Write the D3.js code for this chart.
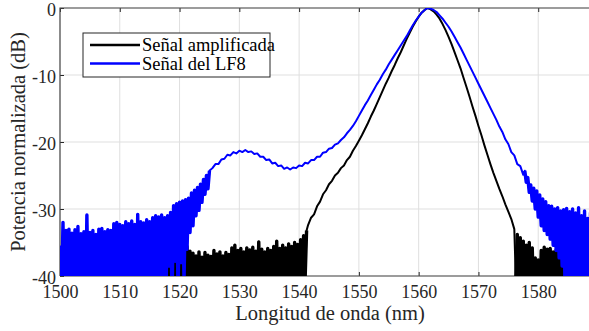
<!DOCTYPE html>
<html>
<head>
<meta charset="utf-8">
<script src="https://cdn.jsdelivr.net/npm/d3@7"></script>
<style>
  body { margin: 0; background: #fff; }
</style>
</head>
<body>
<div id="chart"></div>
<script>
// ticks
var xTicks = [1500, 1510, 1520, 1530, 1540, 1550, 1560, 1570, 1580];
var yTicks = [-40, -30, -20, -10, 0];

// Señal amplificada (black), dB
// 1516.5 .. 1541.25 nm, every 0.25 nm (noise floor)
var blackLeft = [-45,-38.0,-46,-44,-39.5,-46,-45,-38.8,-44,-36.4,
  -45,-37.5,-44,-35.8,-46,-36.8,-43,-35.7,-45,-35.6,
  -44,-36.3,-46,-36.6,-44,-37.0,-45,-36.4,-43,-37.2,
  -46,-36.5,-44,-36.9,-45,-37.1,-44,-36.2,-46,-36.7,
  -43,-36.4,-45,-37.0,-44,-36.5,-46,-36.8,-45,-35.8,
  -44,-35.4,-46,-36.2,-43,-35.9,-45,-36.4,-44,-35.8,
  -46,-36.1,-45,-35.7,-44,-36.3,-43,-34.9,-45,-36.0,
  -46,-36.4,-44,-35.9,-45,-36.2,-43,-35.6,-46,-34.8,
  -44,-35.9,-45,-35.4,-44,-35.8,-46,-35.2,-43,-35.6,
  -45,-35.0,-44,-35.3,-42,-34.6,-41,-34.0,-40.5,-33.2];
// 1541.5 .. 1576 nm, every 0.5 nm
var blackMid = [-32.4,-31.3,-30.8,-29.6,-28.9,-27.8,-27.2,-26.3,-25.8,-25.0,
  -24.6,-23.9,-23.5,-22.7,-22.2,-21.3,-20.6,-19.8,-19.0,-18.1,
  -17.2,-16.2,-15.3,-14.3,-13.3,-12.3,-11.3,-10.4,-9.4,-8.5,
  -7.5,-6.6,-5.6,-4.6,-3.7,-2.8,-2.0,-1.3,-0.7,-0.3,
  0,-0.2,-0.5,-1.0,-1.6,-2.4,-3.3,-4.3,-5.4,-6.6,
  -7.8,-9.0,-10.4,-11.8,-13.2,-14.7,-16.1,-17.6,-19.0,-20.5,
  -21.9,-23.3,-24.6,-25.8,-27.0,-28.1,-29.3,-30.4,-31.5,-33.0];
// 1576.25 .. 1585.25 nm, every 0.25 nm
var blackRight = [-40.5,-33.8,-44,-34.3,-45,-34.8,-44,-35.4,-46,-35.0,
  -45,-35.8,-44,-37.3,-46,-37.6,-45,-36.2,-44,-35.7,
  -46,-36.0,-45,-35.9,-44,-36.4,-46,-36.1,-45,-36.5,
  -44,-36.8,-46,-37.1,-45,-37.3,-46];

// Señal del LF8 (blue)
// 1500 .. 1525 nm, every 0.25 nm
var blueLeft = [-35.5,-44,-32.0,-47,-33.2,-43,-33.0,-46,-33.6,-45,
  -33.1,-44,-32.6,-48,-33.7,-45,-33.4,-44,-30.9,-46,
  -33.5,-45,-33.2,-47,-33.8,-44,-33.0,-46,-32.9,-45,
  -33.4,-44,-33.1,-47,-33.2,-45,-32.2,-44,-32.0,-46,
  -32.3,-45,-32.5,-44,-31.9,-47,-32.2,-45,-31.8,-44,
  -32.3,-46,-30.8,-45,-31.9,-44,-32.1,-47,-31.6,-45,
  -31.9,-44,-31.3,-46,-31.0,-45,-31.2,-43,-30.9,-44,
  -31.3,-41,-31.0,-38.5,-30.5,-43,-29.5,-37.8,-29.2,-42,
  -29.0,-38,-28.8,-40.5,-28.6,-36,-28.4,-33.5,-27.6,-32.5,
  -27.2,-31.0,-26.8,-30.2,-26.3,-29.0,-25.6,-27.8,-25.0,-27.0,
  -24.3];
// 1525.5 .. 1577.5 nm, every 0.5 nm
var blueMid = [-23.9,-23.3,-23.3,-22.6,-22.5,-21.9,-22.0,-21.5,-21.7,-21.3,
  -21.5,-21.2,-21.5,-21.4,-21.8,-21.7,-22.2,-22.2,-22.7,-22.6,
  -23.2,-23.1,-23.6,-23.5,-24.0,-23.8,-24.1,-23.8,-23.9,-23.5,
  -23.6,-23.1,-23.2,-22.7,-22.7,-22.2,-22.2,-21.6,-21.5,-21.0,
  -20.9,-20.4,-20.2,-19.7,-19.3,-18.7,-18.2,-17.6,-16.9,-16.1,
  -15.3,-14.5,-13.8,-13.0,-12.2,-11.4,-10.7,-9.9,-9.2,-8.4,
  -7.7,-7.0,-6.3,-5.6,-4.9,-4.2,-3.4,-2.6,-1.9,-1.3,
  -0.7,-0.3,0,-0.1,-0.3,-0.6,-1.1,-1.6,-2.2,-2.8,
  -3.5,-4.3,-5.1,-5.9,-6.8,-7.7,-8.6,-9.5,-10.4,-11.3,
  -12.2,-13.1,-14.0,-14.9,-15.8,-16.7,-17.7,-18.5,-19.6,-20.3,
  -21.5,-22.0,-23.3,-23.6,-24.9];
// 1577.75 .. 1590 nm, every 0.25 nm
var blueRight = [-24.3,-26.0,-25.3,-27.5,-26.4,-28.8,-26.9,-30.0,-27.3,-31.2,
  -27.9,-32.5,-28.5,-33.2,-28.9,-33.8,-29.5,-34.5,-29.6,-35.4,
  -30.0,-36.2,-29.8,-37.3,-30.3,-38.5,-30.1,-42,-29.9,-45,
  -30.4,-44,-30.0,-46,-30.6,-45,-29.8,-44,-31.0,-47,
  -30.3,-45,-31.4,-44,-30.6,-46,-31.2,-45,-30.8,-44];

var legendNames = ["Señal amplificada", "Señal del LF8"];
var colors = ["#000000", "#0000ff"];

(function () {
  var serif = "'Liberation Serif', Tinos, 'Times New Roman', Times, 'DejaVu Serif', serif";

  function build(start, step, vals) {
    return vals.map(function(v, i) { return { wl: start + i * step, db: v }; });
  }

  var blackNoiseL = build(1516.5, 0.25, blackLeft);
  var blackNoiseR = build(1576.25, 0.25, blackRight);
  var blueNoiseL = build(1500, 0.25, blueLeft);
  var blueNoiseR = build(1577.75, 0.25, blueRight);
  var blackData = blackNoiseL.concat(build(1541.5, 0.5, blackMid), blackNoiseR);
  var blueData = blueNoiseL.concat(build(1525.5, 0.5, blueMid), blueNoiseR);

  var width = 589, height = 331;
  var mLeft = 60, mTop = 8, mBottom = 276, mRight = 598;

  var svg = d3.select("#chart").append("svg")
    .attr("width", width)
    .attr("height", height);

  var x = d3.scaleLinear().domain([1500, 1590]).range([mLeft, mRight]);
  var y = d3.scaleLinear().domain([-40, 0]).range([mBottom, mTop]);

  svg.append("defs").append("clipPath").attr("id", "plotclip")
    .append("rect")
    .attr("x", mLeft).attr("y", mTop)
    .attr("width", mRight - mLeft).attr("height", mBottom - mTop);

  // grid
  var grid = svg.append("g").attr("stroke", "#dfdfdf").attr("stroke-width", 1);
  grid.selectAll("line.vx").data(xTicks).enter().append("line")
    .attr("x1", function(d) { return x(d); }).attr("x2", function(d) { return x(d); })
    .attr("y1", mTop).attr("y2", mBottom);
  grid.selectAll("line.hy").data(yTicks).enter().append("line")
    .attr("x1", mLeft).attr("x2", mRight)
    .attr("y1", function(d) { return y(d); }).attr("y2", function(d) { return y(d); });

  // axes (ticks inward)
  svg.append("g")
    .attr("transform", "translate(0," + mBottom + ")")
    .call(d3.axisBottom(x).tickValues(xTicks).tickSize(-4).tickPadding(9)
      .tickFormat(function(d) { return String(d); }));
  svg.append("g")
    .attr("transform", "translate(0," + mTop + ")")
    .call(d3.axisTop(x).tickValues(xTicks).tickSize(-4).tickFormat(""));
  var yAxis = svg.append("g")
    .attr("transform", "translate(" + mLeft + ",0)")
    .call(d3.axisLeft(y).tickValues(yTicks).tickSize(-4).tickPadding(4)
      .tickFormat(function(d) { return String(d); }));
  yAxis.selectAll(".tick text").attr("dy", "0.42em");

  svg.selectAll(".domain").remove();
  svg.selectAll(".tick line").attr("stroke", "#262626");
  svg.selectAll(".tick text")
    .style("font-family", serif)
    .style("font-size", "18px")
    .style("fill", "#262626");

  svg.append("path")
    .attr("d", "M" + mLeft + "," + mBottom + "V" + mTop + "H" + mRight)
    .attr("fill", "none").attr("stroke", "#4a4a4a").attr("stroke-width", 1.2);
  svg.append("line")
    .attr("x1", mLeft).attr("x2", mRight).attr("y1", mBottom).attr("y2", mBottom)
    .attr("stroke", "#4a4a4a").attr("stroke-width", 1.2);

  // spectra
  var line = d3.line()
    .x(function(d) { return x(d.wl); })
    .y(function(d) { return y(d.db); });

  var plot = svg.append("g").attr("clip-path", "url(#plotclip)");
  function trace(data, color, w) {
    plot.append("path").datum(data)
      .attr("d", line)
      .attr("fill", "none")
      .attr("stroke", color)
      .attr("stroke-width", w)
      .attr("stroke-linejoin", "round");
  }
  trace(blackData, colors[0], 2);
  trace(blackNoiseL, colors[0], 3.4);
  trace(blackNoiseR, colors[0], 3.4);
  trace(blueData, colors[1], 2);
  trace(blueNoiseL, colors[1], 3.4);
  trace(blueNoiseR, colors[1], 3.4);

  // axis titles
  svg.append("text")
    .attr("x", 330).attr("y", 320)
    .attr("text-anchor", "middle")
    .style("font-family", serif).style("font-size", "20.5px").style("fill", "#262626")
    .text("Longitud de onda (nm)");
  svg.append("text")
    .attr("transform", "translate(25," + ((mTop + mBottom) / 2) + ") rotate(-90)")
    .attr("text-anchor", "middle")
    .style("font-family", serif).style("font-size", "20.5px").style("fill", "#262626")
    .text("Potencia normalizada (dB)");

  // legend
  var legend = svg.append("g");
  legend.append("rect")
    .attr("x", 83).attr("y", 33).attr("width", 187).attr("height", 44)
    .attr("fill", "#fff").attr("stroke", "#262626").attr("stroke-width", 1);
  var items = legend.selectAll("g.item").data(legendNames).enter().append("g")
    .attr("transform", function(d, i) { return "translate(0," + (45 + i * 18.5) + ")"; });
  items.append("line")
    .attr("x1", 90).attr("x2", 140).attr("y1", 0).attr("y2", 0)
    .attr("stroke", function(d, i) { return colors[i]; })
    .attr("stroke-width", 2.5);
  items.append("text")
    .attr("x", 142).attr("y", 0).attr("dy", "0.33em")
    .style("font-family", serif).style("font-size", "18.5px").style("fill", "#000")
    .text(function(d) { return d; });
})();
</script>
</body>
</html>
